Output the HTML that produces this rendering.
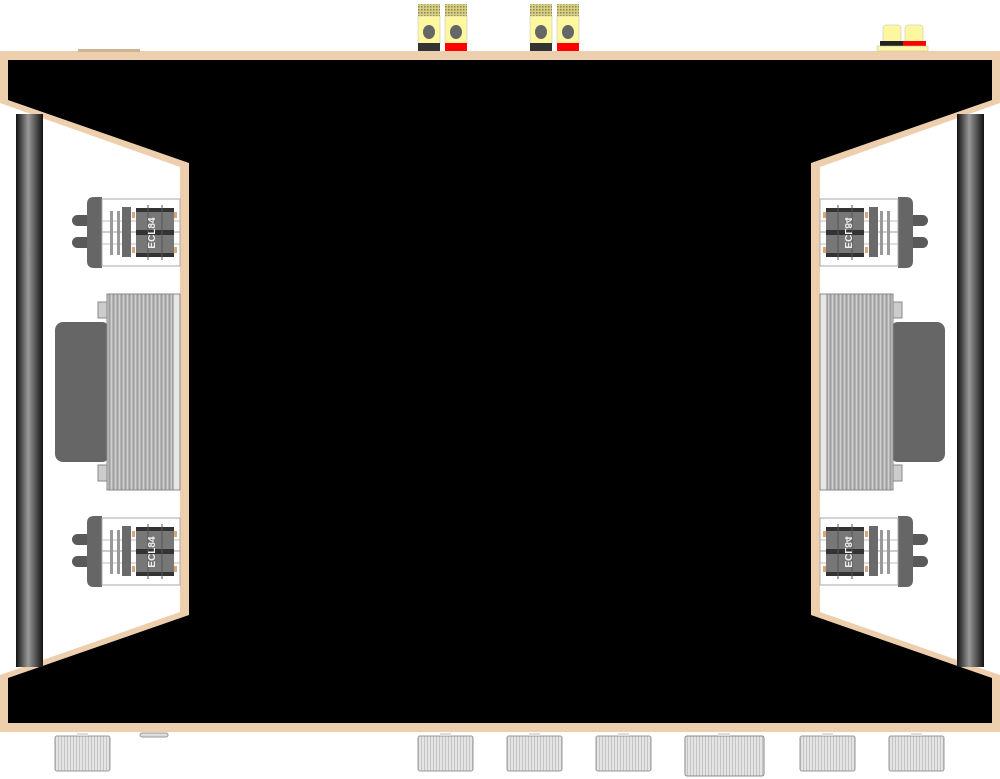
<!DOCTYPE html>
<html><head><meta charset="utf-8"><style>
html,body{margin:0;padding:0;background:#fff;width:1000px;height:779px;overflow:hidden}
svg{display:block}
</style></head><body>
<svg width="1000" height="779" viewBox="0 0 1000 779" xmlns="http://www.w3.org/2000/svg" font-family="Liberation Sans, sans-serif">
<defs>
<linearGradient id="pil" x1="0" x2="1" y1="0" y2="0">
<stop offset="0" stop-color="#111"/><stop offset="0.45" stop-color="#999"/><stop offset="1" stop-color="#111"/>
</linearGradient>
<pattern id="lam" width="4" height="10" patternUnits="userSpaceOnUse">
<rect width="4" height="10" fill="#b4b4b4"/><rect width="1" height="10" fill="#d0d0d0"/><rect x="2" width="1" height="10" fill="#9e9e9e"/>
</pattern>
<pattern id="knob" width="3" height="10" patternUnits="userSpaceOnUse">
<rect width="3" height="10" fill="#e4e4e4"/><rect width="1" height="10" fill="#c4c4c4"/>
</pattern>
<pattern id="knurl" width="3" height="3" patternUnits="userSpaceOnUse">
<rect width="3" height="3" fill="#d8d080"/><rect width="1.5" height="1.5" fill="#8a8450"/>
</pattern>
<g id="tube">
<rect x="0" y="18" width="20" height="11" rx="5.5" fill="#5a5a5a"/>
<rect x="0" y="40" width="20" height="11" rx="5.5" fill="#5a5a5a"/>
<path d="M22 0 H30 V71 H22 Q15 71 15 64 V7 Q15 0 22 0Z" fill="#666"/>
<rect x="30" y="2" width="78" height="67" fill="#fff" stroke="#aaa" stroke-width="1"/>
<line x1="30" y1="35" x2="108" y2="35" stroke="#999"/>
<line x1="30" y1="24" x2="108" y2="24" stroke="#bbb"/>
<line x1="30" y1="47" x2="108" y2="47" stroke="#bbb"/>
<rect x="38" y="14" width="3" height="44" fill="#999"/>
<rect x="45" y="14" width="3" height="44" fill="#999"/>
<rect x="50" y="10" width="9" height="50" fill="#6a6a6a"/>
<rect x="64" y="11" width="38" height="49" fill="#777"/>
<rect x="64" y="11" width="38" height="4" fill="#333"/>
<rect x="64" y="33" width="38" height="5" fill="#333"/>
<rect x="64" y="56" width="38" height="4" fill="#333"/>
<line x1="76" y1="8" x2="76" y2="63" stroke="#555"/>
<line x1="90" y1="8" x2="90" y2="63" stroke="#555"/>
<rect x="60" y="15" width="3" height="6" fill="#d9a878"/>
<rect x="60" y="50" width="3" height="6" fill="#d9a878"/>
<rect x="102" y="15" width="3" height="6" fill="#d9a878"/>
<rect x="102" y="50" width="3" height="6" fill="#d9a878"/>
<text transform="translate(83,36) rotate(-90)" font-size="10" fill="#eee" text-anchor="middle" font-weight="bold">ECL84</text>
</g>
<g id="xfmr">
<rect x="0" y="28" width="55" height="140" rx="8" fill="#666"/>
<rect x="43" y="8" width="10" height="16" fill="#ccc" stroke="#888"/>
<rect x="43" y="171" width="10" height="16" fill="#ccc" stroke="#888"/>
<rect x="52" y="0" width="66" height="196" fill="url(#lam)" stroke="#888"/>
<rect x="118" y="0" width="7" height="196" fill="#e6e6e6" stroke="#888"/>
</g>
<g id="term">
<rect x="0" y="4" width="22" height="12" fill="url(#knurl)"/>
<rect x="0" y="16" width="22" height="28" fill="#fdf7a0" stroke="#bbb" stroke-width="0.5"/>
<ellipse cx="11" cy="32" rx="6" ry="7" fill="#666"/>
</g>
<g id="knob1">
<rect x="0" y="3" width="55" height="35" rx="2" fill="url(#knob)" stroke="#999"/>
<rect x="22" y="0" width="11" height="3" fill="#ddd"/>
</g>
</defs>

<polygon points="0,51 1000,51 1000,103 820,167 820,612 1000,675 1000,732 0,732 0,675 180,612 180,167 0,103" fill="#edcfae"/>
<rect x="78" y="49" width="62" height="3" fill="#cfb395"/>
<polygon points="8,60 992,60 992,100 811,163 811,615 992,678 992,723 8,723 8,678 189,615 189,163 8,100" fill="#000"/>

<rect x="16" y="114" width="27" height="553" fill="url(#pil)"/>
<rect x="957" y="114" width="27" height="553" fill="url(#pil)"/>

<use href="#tube" x="72" y="197"/>
<use href="#tube" x="72" y="516"/>
<use href="#tube" transform="translate(928,197) scale(-1,1)"/>
<use href="#tube" transform="translate(928,516) scale(-1,1)"/>

<use href="#xfmr" x="55" y="294"/>
<use href="#xfmr" transform="translate(945,294) scale(-1,1)"/>

<use href="#term" x="418" y="0"/><rect x="418" y="43" width="22" height="8" fill="#333"/>
<use href="#term" x="445" y="0"/><rect x="445" y="43" width="22" height="8" fill="#f00"/>
<use href="#term" x="530" y="0"/><rect x="530" y="43" width="22" height="8" fill="#333"/>
<use href="#term" x="557" y="0"/><rect x="557" y="43" width="22" height="8" fill="#f00"/>

<rect x="883" y="25" width="18" height="18" rx="3" fill="#fdf7a0" stroke="#bbb" stroke-width="0.5"/>
<rect x="905" y="25" width="18" height="18" rx="3" fill="#fdf7a0" stroke="#bbb" stroke-width="0.5"/>
<rect x="880" y="41" width="23" height="5" fill="#222"/>
<rect x="903" y="41" width="23" height="5" fill="#f00"/>
<rect x="877" y="46" width="51" height="5" fill="#fdf7a0" stroke="#bbb" stroke-width="0.5"/>

<use href="#knob1" x="55" y="733"/>
<rect x="140" y="733" width="28" height="4" rx="2" fill="#ddd" stroke="#999"/>
<use href="#knob1" x="418" y="733"/>
<use href="#knob1" x="507" y="733"/>
<use href="#knob1" x="596" y="733"/>
<rect x="685" y="736" width="79" height="40" rx="2" fill="url(#knob)" stroke="#888"/>
<rect x="718" y="733" width="12" height="3" fill="#ddd"/>
<use href="#knob1" x="800" y="733"/>
<use href="#knob1" x="889" y="733"/>
</svg>
</body></html>
